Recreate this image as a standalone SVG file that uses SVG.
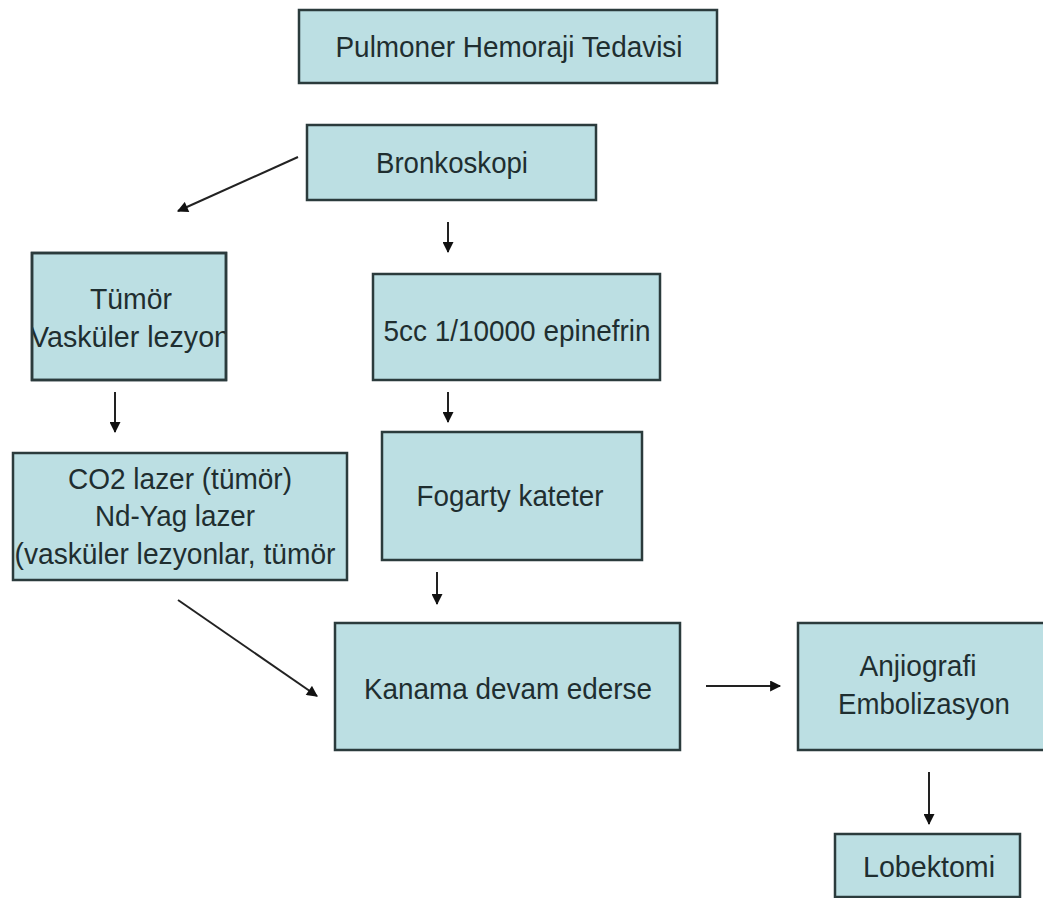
<svg xmlns="http://www.w3.org/2000/svg" width="1043" height="898" viewBox="0 0 1043 898">
<style>
.box{fill:#bcdfe3;stroke:#2b3b3c;stroke-width:2.5}
.ol{fill:none;stroke:#2b3b3c;stroke-width:2.5}
.t{font-family:"Liberation Sans",Arial,sans-serif;font-size:30px;fill:#1f2e30;text-anchor:middle}
.c{stroke:#222;stroke-width:2;fill:none;marker-end:url(#ah)}
</style>
<defs>
<marker id="ah" viewBox="0 0 10 10" refX="9" refY="5" markerWidth="13" markerHeight="11" orient="auto" markerUnits="userSpaceOnUse"><path d="M0,0 L10,5 L0,10 z" fill="#111"/></marker>
<clipPath id="c1"><rect x="32" y="253" width="194" height="127"/></clipPath>
</defs>
<rect width="1043" height="898" fill="#fff"/>
<g id="connectors">
<line class="c" x1="298" y1="157" x2="178" y2="211"/>
<line class="c" x1="448" y1="222" x2="448" y2="252"/>
<line class="c" x1="115" y1="392" x2="115" y2="432"/>
<line class="c" x1="448" y1="392" x2="448" y2="422"/>
<line class="c" x1="437" y1="572" x2="437" y2="604"/>
<line class="c" x1="178" y1="600" x2="317" y2="696"/>
<line class="c" x1="706" y1="686" x2="780" y2="686"/>
<line class="c" x1="929" y1="772" x2="929" y2="824"/>
</g>
<g id="title">
<rect class="box" x="299" y="10" width="418" height="73"/>
<text class="t" x="509" y="57" textLength="347" lengthAdjust="spacingAndGlyphs">Pulmoner Hemoraji Tedavisi</text>
</g>
<g id="bronkoskopi">
<rect class="box" x="307" y="125" width="289" height="75"/>
<text class="t" x="452" y="173" textLength="152" lengthAdjust="spacingAndGlyphs">Bronkoskopi</text>
</g>
<g id="tumor">
<rect class="box" x="32" y="253" width="194" height="127"/>
<g clip-path="url(#c1)">
<text class="t" x="131" y="309" textLength="82" lengthAdjust="spacingAndGlyphs">Tümör</text>
<text class="t" x="130" y="347" textLength="200" lengthAdjust="spacingAndGlyphs">Vasküler lezyon</text>
</g>
<rect class="ol" x="32" y="253" width="194" height="127"/>
</g>
<g id="epinefrin">
<rect class="box" x="373" y="274" width="287" height="106"/>
<text class="t" x="517" y="341" textLength="267" lengthAdjust="spacingAndGlyphs">5cc 1/10000 epinefrin</text>
</g>
<g id="laser">
<rect class="box" x="13" y="453" width="334" height="127"/>
<text class="t" x="180" y="489" textLength="224" lengthAdjust="spacingAndGlyphs">CO2 lazer (tümör)</text>
<text class="t" x="175" y="526" textLength="160" lengthAdjust="spacingAndGlyphs">Nd-Yag lazer</text>
<text class="t" x="175" y="564" textLength="321" lengthAdjust="spacingAndGlyphs">(vasküler lezyonlar, tümör</text>
</g>
<g id="fogarty">
<rect class="box" x="382" y="432" width="260" height="128"/>
<text class="t" x="510" y="506" textLength="187" lengthAdjust="spacingAndGlyphs">Fogarty kateter</text>
</g>
<g id="kanama">
<rect class="box" x="335" y="623" width="345" height="127"/>
<text class="t" x="508" y="699" textLength="288" lengthAdjust="spacingAndGlyphs">Kanama devam ederse</text>
</g>
<g id="anjiografi">
<rect class="box" x="798" y="623" width="250" height="127"/>
<text class="t" x="918" y="676" textLength="117" lengthAdjust="spacingAndGlyphs">Anjiografi</text>
<text class="t" x="924" y="714" textLength="172" lengthAdjust="spacingAndGlyphs">Embolizasyon</text>
</g>
<g id="lobektomi">
<rect class="box" x="835" y="834" width="185" height="63"/>
<text class="t" x="929" y="877" textLength="132" lengthAdjust="spacingAndGlyphs">Lobektomi</text>
</g>
</svg>
